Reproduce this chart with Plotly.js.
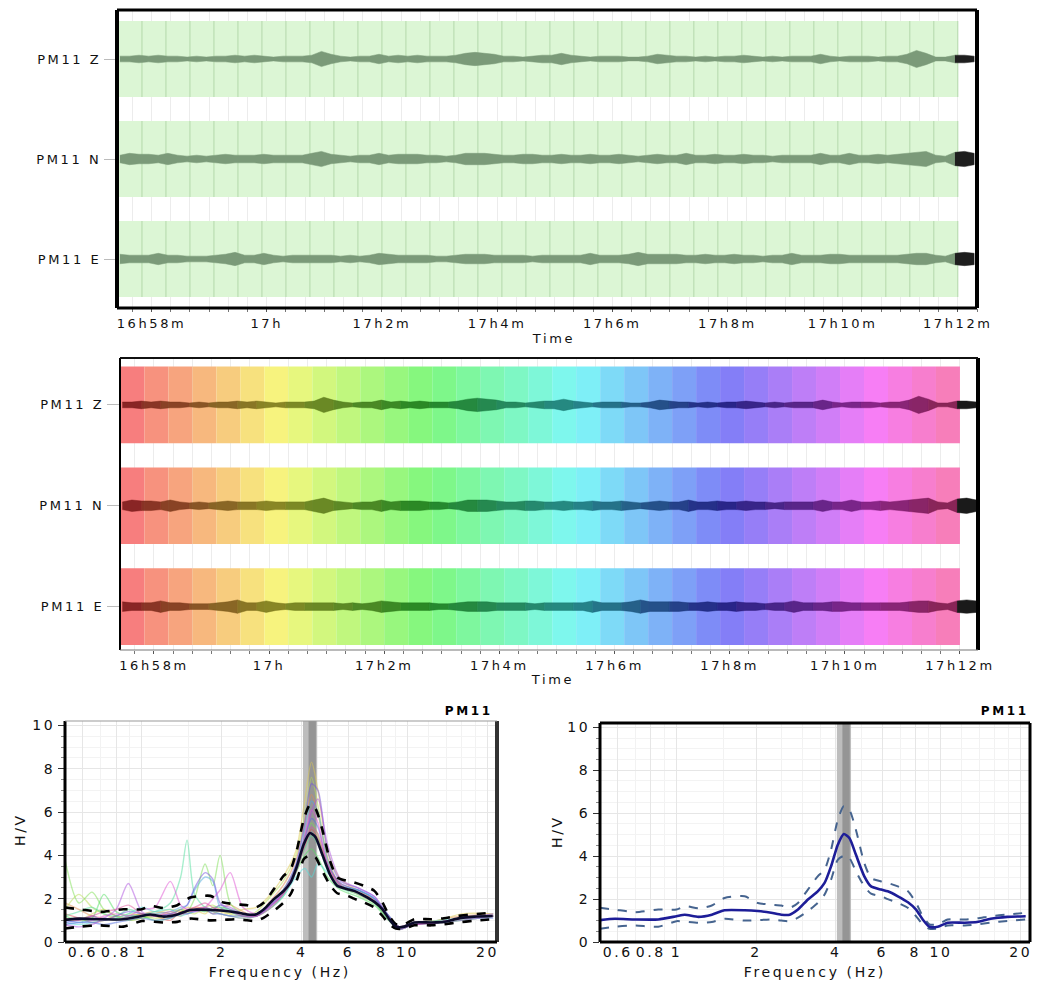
<!DOCTYPE html>
<html>
<head>
<meta charset="utf-8">
<script src="https://cdn.plot.ly/plotly-3.0.1.min.js"></script>
<style>
html,body{margin:0;padding:0;background:#fff;}
#chart{width:1038px;height:983px;}
#chart text{letter-spacing:2.6px;}
</style>
</head>
<body>
<div id="chart"></div>
<script>
// ---------------- DATA ----------------
const stationName = 'PM11';
const traceLabels = ['PM11 Z', 'PM11 N', 'PM11 E'];
// time in seconds after 16h57m
const timeTickSeconds = [60, 180, 300, 420, 540, 660, 780, 900];
const timeTickLabels = ['16h58m', '17h', '17h2m', '17h4m', '17h6m', '17h8m', '17h10m', '17h12m'];
const sampleStartSec = 27;
const sampleStepSec = 10;
// signal envelope (relative half-amplitude) read every 10 s
const envZ = [3,3,4,3,4,3,3,2,3,2, 3,3,4,3,4,3,2,3,3,3, 4,8,5,3,2,3,3,5,3,4, 3,4,3,3,3,4,6,7,6,5,
              3,3,2,3,4,4,6,4,3,2, 3,3,3,2,2,3,5,4,3,3, 2,3,2,3,3,4,3,2,3,2, 3,3,3,5,3,2,3,3,3,2,
              3,3,5,9,6,2,2,4,4,3];
const envN = [4,6,5,5,4,6,4,3,4,3, 4,5,4,4,4,5,4,4,4,4, 6,8,5,4,3,4,4,6,4,5, 5,5,4,4,3,4,6,6,6,5,
              4,4,5,5,4,4,5,4,4,5, 4,4,5,4,3,4,5,4,4,6, 4,4,5,4,4,5,4,4,3,4, 4,4,4,6,4,4,6,4,4,5,
              4,5,6,7,8,4,3,7,8,6];
const envE = [5,4,4,4,6,4,4,3,3,3, 4,5,7,4,4,6,4,3,4,4, 4,4,4,3,4,3,4,6,5,4, 4,4,4,3,3,4,5,5,5,4,
              4,4,4,3,4,4,4,4,4,6, 4,4,4,5,7,5,5,5,5,4, 4,5,4,4,5,4,4,3,4,4, 6,4,4,4,5,5,4,4,4,4,
              4,4,5,6,6,4,3,6,7,6];
// selected time windows (start, seconds after 16h57m), 25 s long
const winStartSec = [25,50,75,100,125,150,175,200,225,250,275,300,325,350,375,400,425,450,475,500,
                     525,550,575,600,625,650,675,700,725,750,775,800,825,850,875];
const winLengthSec = 25;

// H/V mean curve and +/- std
const hvFreq  = [0.514,0.585,0.696,0.853,1.0,1.075,1.21,1.36,1.52,1.81,2.03,2.28,2.49,2.68,2.88,3.14,3.42,3.63,3.84,4.07,
                 4.29,4.51,4.77,5.13,5.44,5.94,6.29,6.87,7.5,8.05,8.53,9.04,9.72,10.6,12.3,13.7,15.4,17.8,20.9];
const hvMean  = [1.02,1.08,1.05,1.05,1.2,1.27,1.17,1.27,1.48,1.48,1.44,1.36,1.27,1.27,1.51,1.98,2.36,2.75,3.52,4.52,
                 5.03,4.83,4.06,3.06,2.59,2.44,2.36,2.13,1.85,1.51,1.05,0.71,0.71,0.9,0.9,0.93,1.08,1.17,1.2];
const hvUpper = [1.59,1.51,1.39,1.51,1.51,1.67,1.57,1.7,2.05,2.13,1.82,1.74,1.7,1.59,1.82,2.44,3.06,3.36,4.29,5.68,
                 6.33,6.14,5.22,3.67,2.98,2.82,2.75,2.59,2.36,1.82,1.2,0.82,0.82,1.05,1.05,1.1,1.2,1.28,1.36];
const hvLower = [0.62,0.71,0.77,0.71,0.97,0.95,0.9,0.93,1.08,1.0,1.02,1.05,1.0,0.97,1.13,1.44,1.82,2.21,2.9,3.83,
                 4.01,3.9,3.29,2.59,2.25,2.13,2.0,1.82,1.59,1.2,0.82,0.62,0.62,0.77,0.77,0.82,0.9,0.98,1.05];
// peak frequency band
const f0Band = [4.04, 4.57];
const f0Core = [4.24, 4.52];

// individual-window H/V curves
const winFreq = [0.514,0.58,0.65,0.72,0.8,0.89,1.0,1.12,1.28,1.4,1.48,1.58,1.73,1.85,1.97,2.15,2.4,2.7,3.0,3.4,
                 3.8,4.1,4.35,4.6,5.0,5.6,6.5,7.5,8.5,9.3,10.5,13,16,21];
const hvWin01 = [1.3,1.1,0.9,1.0,1.2,1.1,1.3,1.2,1.0,1.4, 1.3,1.5,1.6,1.4,1.3,1.2,1.1,1.2,1.6,2.2, 3.2,4.4,5.2,4.8,3.6,2.7,2.4,1.9,1.1,0.7, 0.9,0.9,1.1,1.2];
const hvWin02 = [1.8,1.5,1.2,1.1,1.0,1.2,1.3,1.4,1.3,1.2, 1.4,1.6,1.5,1.3,1.5,1.7,1.4,1.2,1.8,2.6, 3.8,5.5,6.8,5.9,3.9,2.6,2.2,1.8,1.0,0.6, 0.8,1.0,1.2,1.3];
const hvWin03 = [1.1,1.0,1.3,1.5,1.2,1.0,1.1,1.3,1.5,1.4, 1.6,1.5,1.3,1.6,1.4,1.3,1.5,1.6,2.1,3.0, 4.2,6.5,8.3,7.0,4.2,2.9,2.4,2.0,1.2,0.7, 0.9,1.0,1.3,1.3];
const hvWin04 = [1.5,2.2,1.6,1.3,1.1,1.3,1.2,1.1,1.2,1.5, 1.4,1.3,1.6,1.7,1.5,1.3,1.2,1.4,2.0,2.8, 4.0,5.8,7.6,6.3,3.8,2.5,2.3,1.9,1.1,0.6, 0.8,0.9,1.1,1.2];
const hvWin05 = [3.8,1.8,2.3,1.5,1.2,1.0,1.1,1.2,1.3,1.5, 1.4,2.0,3.6,2.6,4.0,1.8,1.3,1.3,1.7,2.4, 3.5,4.8,5.5,4.9,3.4,2.6,2.3,1.8,1.1,0.7, 0.8,0.9,1.0,1.2];
const hvWin06 = [1.2,1.0,1.1,2.2,1.4,1.2,1.2,1.0,1.1,1.3, 1.4,1.5,1.4,1.6,1.6,1.5,1.3,1.2,1.5,2.1, 3.2,4.0,4.3,3.9,3.0,2.4,2.1,1.7,1.0,0.6, 0.8,0.9,1.1,1.2];
const hvWin07 = [1.2,1.4,1.6,1.3,1.2,1.5,1.3,1.4,1.8,3.0, 4.7,2.2,1.6,1.5,1.7,1.4,1.2,1.3,1.6,2.2, 3.3,4.3,4.9,4.5,3.3,2.5,2.2,1.8,1.0,0.6, 0.8,0.9,1.0,1.2];
const hvWin08 = [0.9,0.8,0.9,1.0,1.1,1.3,1.6,1.4,1.5,1.2, 1.3,1.4,1.5,1.4,1.3,1.2,1.1,1.2,1.5,2.1, 3.0,3.4,3.0,3.6,3.2,2.6,2.4,2.0,1.1,0.6, 0.8,1.0,1.1,1.3];
const hvWin09 = [1.0,0.9,1.0,1.1,1.0,1.2,1.2,1.3,1.4,1.6, 1.7,2.4,3.0,2.8,1.6,1.4,1.2,1.2,1.6,2.3, 3.5,5.2,6.5,6.0,3.8,2.6,2.4,2.0,1.2,0.7, 0.8,0.9,1.1,1.2];
const hvWin10 = [0.8,0.9,0.9,0.8,0.9,1.0,1.1,1.0,1.1,1.3, 1.3,1.4,1.5,1.3,1.3,1.2,1.2,1.2,1.6,2.3, 3.4,4.8,5.7,5.3,3.6,2.7,2.4,2.0,1.2,0.7, 0.9,0.9,1.1,1.1];
const hvWin11 = [0.9,1.0,1.2,1.0,1.2,1.4,1.3,1.2,1.3,1.5, 1.7,2.5,3.2,2.9,1.8,1.5,1.3,1.3,1.7,2.4, 3.6,5.5,7.3,7.0,4.2,2.8,2.5,2.1,1.2,0.6, 0.8,0.9,1.1,1.2];
const hvWin12 = [0.8,0.7,0.8,1.1,1.5,2.7,1.4,1.2,1.3,1.3, 1.4,1.5,1.6,1.5,1.7,1.6,1.3,1.2,1.6,2.2, 3.3,4.6,6.0,6.6,4.5,2.9,2.5,2.1,1.1,0.7, 0.8,0.9,1.0,1.2];
const hvWin13 = [1.0,1.1,1.0,1.2,1.3,1.2,1.5,1.6,2.8,1.7, 1.5,1.4,1.6,2.0,2.4,3.2,1.6,1.3,1.6,2.3, 3.4,4.9,6.1,5.5,3.6,2.6,2.3,1.9,1.1,0.6, 0.8,0.9,1.1,1.3];
const hvWin14 = [1.1,1.0,1.2,1.4,1.5,1.7,1.3,1.2,1.4,1.3, 1.5,1.6,1.8,1.6,1.5,1.4,1.2,1.2,1.5,2.2, 3.3,4.5,5.3,5.0,3.5,2.6,2.3,1.9,1.1,0.7, 0.8,0.9,1.1,1.2];
const freqTickVals = [0.6, 0.8, 1, 2, 4, 6, 8, 10, 20];
const freqTickText = ['0.6', '0.8', '1', '2', '4', '6', '8', '10', '20'];
const hvTickVals = [0, 2, 4, 6, 8, 10];

// ---------------- BUILD ----------------
const W = 1038, H = 983;
const FONT = 'DejaVu Sans';
const px = v => v / W;
const py = v => 1 - v / H;
const centers = [2.5, 1.5, 0.5];
const bandHalf = 0.38;
const ampScale = 0.0095;
const envs = [envZ, envN, envE];
const sampleTimes = envZ.map((_, i) => sampleStartSec + i * sampleStepSec);
const windowsEnd = winStartSec[winStartSec.length - 1] + winLengthSec;
const winHue = i => Math.round(i * 330 / (winStartSec.length - 1));

const data = [];
function envelopeTrace(idx, env, c, color, xa, ya) {
  const times = idx.map(i => sampleTimes[i]);
  const up = idx.map(i => c + env[i] * ampScale);
  const lo = idx.map(i => c - env[i] * ampScale);
  return {
    x: times.concat(times.slice().reverse()),
    y: up.concat(lo.slice().reverse()),
    type: 'scatter', mode: 'lines', fill: 'toself', fillcolor: color,
    line: {color: color, width: 0.5}, xaxis: xa, yaxis: ya, showlegend: false, hoverinfo: 'skip'
  };
}
const allIdx = sampleTimes.map((t, i) => i);
const lastInIdx = allIdx.filter(i => sampleTimes[i] <= windowsEnd).pop();
const idxIn = allIdx.filter(i => i <= lastInIdx);
const idxOut = allIdx.filter(i => i >= lastInIdx);

// top panel: uniform grey-green traces
envs.forEach((env, k) => {
  data.push(envelopeTrace(idxIn, env, centers[k], '#7b9a79', 'x', 'y'));
  data.push(envelopeTrace(idxOut, env, centers[k], '#1e1e1e', 'x', 'y'));
});
// middle panel: trace tinted with each window's colour
envs.forEach((env, k) => {
  winStartSec.forEach((s, w) => {
    const a = allIdx.filter(i => sampleTimes[i] <= s).pop();
    const b = allIdx.filter(i => sampleTimes[i] <= s + winLengthSec).pop();
    const idx = allIdx.filter(i => i >= (a === undefined ? 0 : a) && i <= b);
    if (idx.length > 1) {
      data.push(envelopeTrace(idx, env, centers[k], 'hsla(' + winHue(w) + ',70%,27%,0.85)', 'x2', 'y2'));
    }
  });
  data.push(envelopeTrace(idxOut, env, centers[k], '#1a1a1a', 'x2', 'y2'));
});

// H/V panels
function bandTrace(rng, color, xa, ya) {
  return {x: [rng[0], rng[1], rng[1], rng[0]], y: [0, 0, 10.2, 10.2], type: 'scatter', mode: 'lines',
    fill: 'toself', fillcolor: color, line: {width: 0}, xaxis: xa, yaxis: ya, showlegend: false, hoverinfo: 'skip'};
}
data.push(bandTrace(f0Band, '#bdbdbd', 'x3', 'y3'));
data.push(bandTrace(f0Core, '#959595', 'x3', 'y3'));
data.push(bandTrace(f0Band, '#bdbdbd', 'x4', 'y4'));
data.push(bandTrace(f0Core, '#959595', 'x4', 'y4'));

const winCurves = [hvWin01, hvWin02, hvWin03, hvWin04, hvWin05, hvWin06, hvWin07,
                   hvWin08, hvWin09, hvWin10, hvWin11, hvWin12, hvWin13, hvWin14];
winCurves.forEach((vals, k) => {
  const hue = Math.round(k * 330 / (winCurves.length - 1));
  data.push({x: winFreq, y: vals, type: 'scatter', mode: 'lines',
    line: {color: 'hsla(' + hue + ',70%,60%,0.5)', width: 1.4, shape: 'spline', smoothing: 0.8},
    xaxis: 'x3', yaxis: 'y3', showlegend: false, hoverinfo: 'skip'});
});
function hvLine(y, color, width, dash, xa, ya) {
  return {x: hvFreq, y: y, type: 'scatter', mode: 'lines',
    line: {color: color, width: width, dash: dash, shape: 'spline', smoothing: 0.6},
    xaxis: xa, yaxis: ya, showlegend: false, hoverinfo: 'skip'};
}
data.push(hvLine(hvUpper, '#000', 2.6, 'dash', 'x3', 'y3'));
data.push(hvLine(hvLower, '#000', 2.6, 'dash', 'x3', 'y3'));
data.push(hvLine(hvMean, '#0b0b2a', 2.6, 'solid', 'x3', 'y3'));
data.push(hvLine(hvUpper, '#46648f', 2, 'dash', 'x4', 'y4'));
data.push(hvLine(hvLower, '#46648f', 2, 'dash', 'x4', 'y4'));
data.push(hvLine(hvMean, '#1d1d98', 2.6, 'solid', 'x4', 'y4'));

// shapes
const shapes = [];
winStartSec.forEach((s, i) => {
  centers.forEach(c => {
    shapes.push({type: 'rect', xref: 'x', yref: 'y', x0: s, x1: s + winLengthSec, y0: c - bandHalf, y1: c + bandHalf,
      fillcolor: '#dcf6d5', line: {width: 0}, layer: 'between'});
    shapes.push({type: 'rect', xref: 'x2', yref: 'y2', x0: s, x1: s + winLengthSec, y0: c - bandHalf, y1: c + bandHalf,
      fillcolor: 'hsl(' + winHue(i) + ',88%,73%)', line: {width: 0}, layer: 'between'});
  });
});
winStartSec.concat([windowsEnd]).forEach(b => {
  centers.forEach(c => {
    shapes.push({type: 'line', xref: 'x', yref: 'y', x0: b, x1: b, y0: c - bandHalf, y1: c + bandHalf,
      line: {color: '#b3d8aa', width: 1}, layer: 'between'});
  });
});
function frame(ax, ay, s) {
  const xr = ax + ' domain', yr = ay + ' domain';
  const seg = (x0, x1, y0, y1, st) => ({type: 'line', xref: xr, yref: yr, x0, x1, y0, y1,
    line: {color: st[1], width: st[0]}, layer: 'above'});
  shapes.push(seg(0, 0, 0, 1, s.l));
  shapes.push(seg(1, 1, 0, 1, s.r));
  shapes.push(seg(0, 1, 1, 1, s.t));
  shapes.push(seg(0, 1, 0, 0, s.b));
}
frame('x', 'y', {l: [4, '#000'], r: [4, '#000'], t: [3, '#000'], b: [3, '#000']});
frame('x2', 'y2', {l: [2, '#000'], r: [4, '#000'], t: [2, '#111'], b: [1, '#777']});
frame('x3', 'y3', {l: [3, '#000'], r: [4, '#333'], t: [1, '#999'], b: [3, '#000']});
frame('x4', 'y4', {l: [3, '#000'], r: [3, '#000'], t: [3, '#000'], b: [3, '#000']});

// axes
const tickFont = {family: FONT, size: 13, color: '#111'};
function timeAxis(dom, rng, anchor) {
  return {domain: dom, range: rng, anchor: anchor, tickmode: 'array', tickvals: timeTickSeconds, ticktext: timeTickLabels,
    ticks: 'outside', ticklen: 3, tickcolor: '#555', tickangle: 0, tickfont: tickFont,
    showgrid: true, gridcolor: '#ececec', zeroline: false, showline: false, fixedrange: true,
    minor: {tickmode: 'linear', tick0: 0, dtick: 20, ticks: 'outside', ticklen: 3, tickcolor: '#777',
      showgrid: true, gridcolor: '#ececec'}};
}
function chanAxis(dom, rng, anchor) {
  return {domain: dom, range: rng, anchor: anchor, tickmode: 'array', tickvals: centers, ticktext: traceLabels,
    ticks: 'outside', ticklen: 12, tickcolor: '#bbb', tickfont: tickFont, showgrid: false, zeroline: false,
    showline: false, fixedrange: true};
}
const minorFreq = [0.6,0.7,0.8,0.9,1,1.5,2,2.5,3,3.5,4,5,6,7,8,9,10,12,14,16,18,20];
function freqAxis(dom, anchor) {
  return {domain: dom, anchor: anchor, type: 'log', range: [Math.log10(0.514), Math.log10(21.7)],
    tickmode: 'array', tickvals: freqTickVals, ticktext: freqTickText, ticks: '',
    tickangle: 0, tickfont: {family: FONT, size: 14, color: '#111'}, showgrid: true, gridcolor: '#e6e6e6',
    zeroline: false, showline: false, fixedrange: true,
    minor: {tickmode: 'array', tickvals: minorFreq, showgrid: true, gridcolor: '#f2f2f2', ticks: ''}};
}
function hvAxis(dom, anchor) {
  return {domain: dom, anchor: anchor, range: [0, 10.2], tickmode: 'array', tickvals: hvTickVals,
    ticks: 'outside', ticklen: 6, tickcolor: '#333', tickfont: {family: FONT, size: 14, color: '#111'},
    showgrid: true, gridcolor: '#e6e6e6', zeroline: false, showline: false, fixedrange: true,
    minor: {tickmode: 'linear', tick0: 0, dtick: 0.5, ticks: 'outside', ticklen: 3, tickcolor: '#888',
      showgrid: true, gridcolor: '#f3f3f3'}};
}

const annFont = {family: FONT, size: 13, color: '#111'};
const ann = (text, x, y, font, extra) => Object.assign({text, x: px(x), y: py(y), xref: 'paper', yref: 'paper',
  xanchor: 'center', yanchor: 'middle', showarrow: false, font}, extra || {});
const bigFont = {family: FONT, size: 14, color: '#111'};
const boldFont = {family: FONT, size: 12, color: '#000'};
const annotations = [
  ann('Time', 553, 338, annFont),
  ann('Time', 552, 679, annFont),
  ann('<b>' + stationName + '</b>', 489, 711, boldFont, {xanchor: 'right'}),
  ann('<b>' + stationName + '</b>', 1025, 711, boldFont, {xanchor: 'right'}),
  ann('Frequency (Hz)', 280, 972, bigFont),
  ann('Frequency (Hz)', 815, 972, bigFont),
  ann('H/V', 20, 830, bigFont, {textangle: -90}),
  ann('H/V', 557, 832, bigFont, {textangle: -90})
];

const layout = {
  width: W, height: H, margin: {l: 0, r: 0, t: 0, b: 0}, paper_bgcolor: '#fff', plot_bgcolor: '#fff',
  showlegend: false, font: {family: FONT, color: '#111'},
  xaxis: timeAxis([px(117), px(977)], [24, 920], 'y'),
  yaxis: chanAxis([py(308), py(10)], [0.01, 2.99], 'x'),
  xaxis2: timeAxis([px(120), px(978)], [24.6, 918.8], 'y2'),
  yaxis2: chanAxis([py(650), py(358)], [0.07, 2.965], 'x2'),
  xaxis3: freqAxis([px(65), px(497)], 'y3'),
  yaxis3: hvAxis([py(942), py(721)], 'x3'),
  xaxis4: freqAxis([px(600), px(1030)], 'y4'),
  yaxis4: hvAxis([py(942), py(723)], 'x4'),
  shapes: shapes, annotations: annotations
};
Plotly.newPlot('chart', data, layout, {staticPlot: true, displayModeBar: false});
</script>
</body>
</html>
